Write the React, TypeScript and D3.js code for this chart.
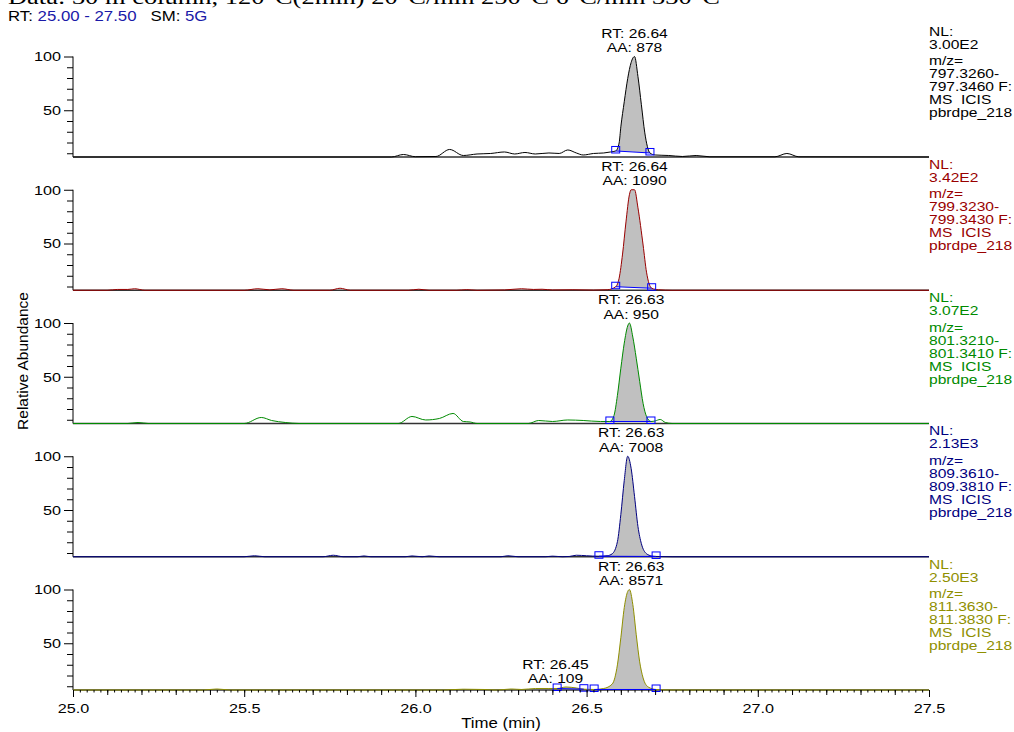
import { useRef, useEffect } from "react";
import * as d3 from "d3";

type Pt = [number, number];

// x range and tick labels (min)
const timeRange: [number, number] = [25.0, 27.5];
const timeLabels = [25.0, 25.5, 26.0, 26.5, 27.0, 27.5];
const timeMedium = [25.1, 25.2, 25.3, 25.4, 25.6, 25.7, 25.8, 25.9, 26.1, 26.2, 26.3, 26.4, 26.6, 26.7, 26.8, 26.9, 27.1, 27.2, 27.3, 27.4];
const abundanceLabels = [50, 100];
const abundanceMinor = [10, 20, 30, 40, 60, 70, 80, 90];

// one entry per panel, top to bottom
const traceColors = ["#000000", "#990000", "#008a00", "#000080", "#8f8f00"];
const nlValues = ["3.00E2", "3.42E2", "3.07E2", "2.13E3", "2.50E3"];
const mzFrom = ["797.3260-", "799.3230-", "801.3210-", "809.3610-", "811.3630-"];
const mzTo = ["797.3460 F:", "799.3430 F:", "801.3410 F:", "809.3810 F:", "811.3830 F:"];
const rawFile = "pbrdpe_218";

// [time, relative abundance]
const trace797: Pt[] = [
  [25.0, 0], [25.93, 0], [25.965, 2.5], [26.0, 0.3], [26.06, 0.5], [26.1, 7.5], [26.14, 1.5],
  [26.18, 3], [26.22, 3.5], [26.26, 5], [26.29, 3], [26.32, 4.5], [26.35, 3], [26.39, 4],
  [26.42, 3.5], [26.445, 7], [26.47, 4], [26.49, 2], [26.52, 3.5], [26.55, 4], [26.57, 5],
  [26.585, 6], [26.595, 14], [26.6, 30], [26.61, 55], [26.62, 78], [26.63, 94], [26.64, 100],
  [26.65, 80], [26.66, 52], [26.67, 24], [26.685, 4], [26.7, 2], [26.74, 1.5], [26.78, 0.5],
  [26.82, 1.5], [26.86, 0.2], [27.05, 0.2], [27.085, 3.5], [27.12, 0.2], [27.5, 0],
];
const trace799: Pt[] = [
  [25.0, 0], [25.1, 0], [25.13, 0.8], [25.16, 0.8], [25.18, 1.5], [25.21, 0], [25.5, 0],
  [25.54, 1.5], [25.575, 0.4], [25.61, 1.5], [25.645, 0], [25.75, 0], [25.78, 2], [25.81, 0],
  [25.98, 0], [26.01, 1], [26.04, 0], [26.12, 0], [26.15, 0.6], [26.18, 0], [26.26, 0.3],
  [26.31, 1.5], [26.345, 0.8], [26.37, 1], [26.4, 0.3], [26.46, 0.5], [26.52, 0.2], [26.56, 0.5],
  [26.585, 3.5], [26.595, 12], [26.605, 36], [26.615, 68], [26.625, 95], [26.63, 100], [26.64, 100],
  [26.65, 82], [26.665, 45], [26.675, 18], [26.69, 2], [26.71, 0.5], [26.75, 0], [27.5, 0],
];
const trace801: Pt[] = [
  [25.0, 0], [25.16, 0], [25.19, 1], [25.22, 0], [25.5, 0], [25.55, 6], [25.58, 3], [25.62, 1],
  [25.66, 0], [25.95, 0], [25.99, 7], [26.03, 3.5], [26.07, 5], [26.11, 10], [26.14, 2],
  [26.16, 1.5], [26.18, 0], [26.33, 0], [26.36, 3], [26.4, 2], [26.445, 3.5], [26.49, 3],
  [26.54, 2], [26.568, 2], [26.58, 8], [26.59, 28], [26.6, 55], [26.61, 80], [26.62, 97],
  [26.625, 100], [26.635, 86], [26.645, 65], [26.655, 42], [26.665, 20], [26.675, 7], [26.688, 2],
  [26.7, 2.5], [26.715, 4], [26.73, 1], [26.75, 0], [27.5, 0],
];
const trace809: Pt[] = [
  [25.0, 0], [25.5, 0], [25.53, 1], [25.56, 0], [25.73, 0], [25.76, 1.5], [25.79, 0], [25.83, 0],
  [25.85, 0.8], [25.87, 0], [25.97, 0], [25.99, 0.8], [26.02, 0], [26.04, 0.8], [26.07, 0],
  [26.25, 0], [26.27, 1], [26.3, 0], [26.38, 0], [26.4, 0.6], [26.43, 0], [26.45, 0.3], [26.47, 1.5],
  [26.5, 1], [26.536, 0.5], [26.56, 1], [26.575, 3], [26.59, 15], [26.6, 42], [26.61, 76],
  [26.62, 100], [26.63, 88], [26.64, 60], [26.65, 30], [26.66, 13], [26.675, 3], [26.69, 0.8],
  [26.703, 0.3], [26.75, 0], [27.5, 0],
];
const trace811: Pt[] = [
  [25.0, 0], [25.38, 0], [25.42, 1], [25.46, 0], [26.08, 0], [26.14, 0.8], [26.2, 0.5], [26.24, 0],
  [26.28, 1], [26.31, 0.5], [26.35, 1.5], [26.39, 1.5], [26.414, 1.5], [26.44, 3], [26.47, 2],
  [26.492, 0.8], [26.522, 0.5], [26.55, 1.5], [26.575, 6], [26.59, 25], [26.6, 52], [26.61, 82],
  [26.62, 98], [26.625, 100], [26.635, 85], [26.645, 55], [26.655, 28], [26.665, 12], [26.68, 3],
  [26.703, 0.5], [26.75, 0], [27.5, 0],
];
const traces = [trace797, trace799, trace801, trace809, trace811];

// integrated peaks: panel, RT, area, integration limits, label height
const peaks = [
  { panel: 0, rt: 26.64, aa: 878, from: 26.585, to: 26.685, top: 100, shift: 0 },
  { panel: 1, rt: 26.64, aa: 1090, from: 26.585, to: 26.69, top: 100, shift: 0 },
  { panel: 2, rt: 26.63, aa: 950, from: 26.568, to: 26.688, top: 100, shift: 0 },
  { panel: 3, rt: 26.63, aa: 7008, from: 26.536, to: 26.703, top: 100, shift: 0 },
  { panel: 4, rt: 26.63, aa: 8571, from: 26.522, to: 26.703, top: 100, shift: 0 },
  { panel: 4, rt: 26.45, aa: 109, from: 26.414, to: 26.492, top: 2, shift: -14 },
];

const FONT = "'Liberation Sans', Arial, sans-serif";
const SX = 1.2;

function valueAt(data: Pt[], t: number) {
  const i = d3.bisector((d: Pt) => d[0]).left(data, t);
  if (i <= 0) return data[0][1];
  if (i >= data.length) return data[data.length - 1][1];
  const [t0, v0] = data[i - 1];
  const [t1, v1] = data[i];
  if (t1 === t0) return v1;
  return v0 + ((v1 - v0) * (t - t0)) / (t1 - t0);
}

export default function App() {
  const ref = useRef<SVGSVGElement>(null);

  useEffect(() => {
    if (!ref.current) return;
    const svg = d3.select(ref.current);
    svg.selectAll("*").remove();

    const left = 73,
      right = 929,
      firstBase = 157,
      step = 133.25,
      span = 100.5;
    const x = d3.scaleLinear().domain(timeRange).range([left, right]);

    const label = (g: any, px: number, py: number, str: string, fill = "#000", anchor = "start", size = 13) =>
      g
        .append("text")
        .attr("transform", `translate(${px},${py}) scale(${SX},1)`)
        .attr("font-family", FONT)
        .attr("font-size", size)
        .attr("fill", fill)
        .attr("text-anchor", anchor)
        .style("white-space", "pre")
        .text(str);

    // method line, cut off by the top edge as in the print
    svg
      .append("text")
      .attr("x", 8)
      .attr("y", 4)
      .attr("font-family", "'Liberation Serif', 'DejaVu Serif', serif")
      .attr("font-size", 20)
      .attr("textLength", 712)
      .attr("lengthAdjust", "spacingAndGlyphs")
      .text("Data: 30 m column, 120°C(2min) 20°C/min 250°C 6°C/min 330°C");

    // header
    const hdr = svg
      .append("text")
      .attr("transform", `translate(8,21) scale(${SX},1)`)
      .attr("font-family", FONT)
      .attr("font-size", 14)
      .style("white-space", "pre");
    hdr.append("tspan").text("RT: ");
    hdr.append("tspan").attr("fill", "#1a1aa8").text("25.00 - 27.50");
    hdr.append("tspan").text("   SM: ");
    hdr.append("tspan").attr("fill", "#1a1aa8").text("5G");

    traces.forEach((data, i) => {
      const base = firstBase + i * step;
      const top = base - span;
      const color = traceColors[i];
      const y = d3.scaleLinear().domain([0, 100]).range([base, top]);
      const yTick = d3.scaleLinear().domain([0, 100]).range([base + 7, top]);
      const g = svg.append("g");

      // y ticks
      const minor = g
        .append("g")
        .attr("transform", `translate(${left},0)`)
        .call(d3.axisLeft(yTick).tickValues(abundanceMinor).tickSize(6).tickSizeOuter(0).tickFormat(() => ""));
      minor.select(".domain").remove();
      const major = g
        .append("g")
        .attr("transform", `translate(${left},0)`)
        .call(d3.axisLeft(yTick).tickValues(abundanceLabels).tickSize(9).tickSizeOuter(0).tickPadding(1).tickFormat(d3.format("d")));
      major.select(".domain").remove();
      major
        .selectAll("text")
        .attr("font-family", FONT)
        .attr("font-size", 13.5)
        .attr("fill", "#000")
        .attr("transform", `scale(${SX},1)`);

      g.append("line")
        .attr("x1", left)
        .attr("x2", left)
        .attr("y1", top)
        .attr("y2", base)
        .attr("stroke", "#000");

      // peak fills
      const panelPeaks = peaks.filter((p) => p.panel === i);
      panelPeaks.forEach((p) => {
        const vFrom = valueAt(data, p.from);
        const vTo = valueAt(data, p.to);
        const baseAt = (t: number) => vFrom + ((vTo - vFrom) * (t - p.from)) / (p.to - p.from);
        const pts = data.filter((d) => d[0] >= p.from - 1e-9 && d[0] <= p.to + 1e-9);
        const area = d3
          .area<Pt>()
          .x((d) => x(d[0]))
          .y0((d) => y(baseAt(d[0])))
          .y1((d) => y(d[1]))
          .curve(d3.curveMonotoneX);
        g.append("path").attr("d", area(pts)).attr("fill", "#c0c0c0");
      });

      // baseline
      g.append("line")
        .attr("x1", left)
        .attr("x2", right)
        .attr("y1", base)
        .attr("y2", base)
        .attr("stroke", "#333")
        .attr("stroke-width", 1.5);

      // trace
      const line = d3
        .line<Pt>()
        .x((d) => x(d[0]))
        .y((d) => y(d[1]))
        .curve(d3.curveMonotoneX);
      g.append("path").attr("d", line(data)).attr("fill", "none").attr("stroke", color).attr("stroke-width", 1);

      // integration baselines, markers and labels
      panelPeaks.forEach((p) => {
        const ends: Pt[] = [
          [p.from, valueAt(data, p.from)],
          [p.to, valueAt(data, p.to)],
        ];
        g.append("line")
          .attr("x1", x(ends[0][0]))
          .attr("y1", y(ends[0][1]))
          .attr("x2", x(ends[1][0]))
          .attr("y2", y(ends[1][1]))
          .attr("stroke", "#0000ff")
          .attr("stroke-width", 1);
        g.selectAll(null)
          .data(ends)
          .join("rect")
          .attr("x", (d) => x(d[0]) - 4)
          .attr("y", (d) => y(d[1]) - 4.5)
          .attr("width", 8)
          .attr("height", 6.5)
          .attr("fill", "none")
          .attr("stroke", "#0000ff")
          .attr("stroke-width", 1);
        const lx = x(p.rt) + p.shift;
        const ly = y(p.top);
        label(g, lx, ly - 19, `RT: ${p.rt.toFixed(2)}`, "#000", "middle");
        label(g, lx, ly - 4.5, `AA: ${p.aa}`, "#000", "middle");
      });

      // right side info
      const info = ["NL:", nlValues[i], "m/z=", mzFrom[i], mzTo[i], "MS  ICIS", rawFile];
      const offs = [-21, -8, 8.5, 21.5, 34.5, 47.5, 60.5];
      info.forEach((s, k) => label(g, right, top + offs[k], s, color));

      // x axis on last panel
      if (i === traces.length - 1) {
        const small = d3.range(0, 126).map((k) => 25 + k * 0.02);
        const sAx = g
          .append("g")
          .attr("transform", `translate(0,${base})`)
          .call(d3.axisBottom(x).tickValues(small).tickSize(2.5).tickSizeOuter(0).tickFormat(() => ""));
        sAx.select(".domain").remove();
        const mAx = g
          .append("g")
          .attr("transform", `translate(0,${base})`)
          .call(d3.axisBottom(x).tickValues(timeMedium).tickSize(5).tickSizeOuter(0).tickFormat(() => ""));
        mAx.select(".domain").remove();
        const bAx = g
          .append("g")
          .attr("transform", `translate(0,${base})`)
          .call(d3.axisBottom(x).tickValues(timeLabels).tickSize(7).tickSizeOuter(0).tickPadding(6).tickFormat(d3.format(".1f")));
        bAx.select(".domain").remove();
        bAx.selectAll("text")
          .attr("font-family", FONT)
          .attr("font-size", 13.5)
          .attr("fill", "#000")
          .attr("transform", `scale(${SX},1)`);
      }
    });

    // axis titles
    svg
      .append("text")
      .attr("transform", "translate(28,361) rotate(-90)")
      .attr("font-family", FONT)
      .attr("font-size", 15.5)
      .attr("text-anchor", "middle")
      .text("Relative Abundance");
    label(svg, (left + right) / 2, 728, "Time (min)", "#000", "middle", 14);
  }, []);

  return (
    <svg
      ref={ref}
      width={1014}
      height={732}
      style={{ position: "absolute", left: 0, top: 0, background: "#fff", display: "block" }}
    />
  );
}
